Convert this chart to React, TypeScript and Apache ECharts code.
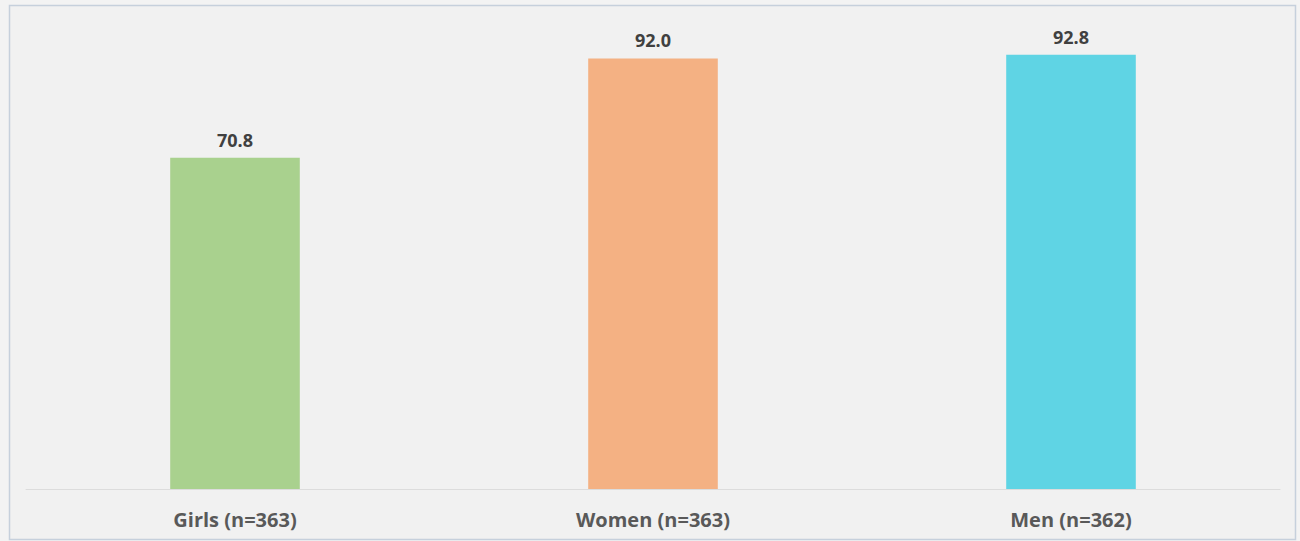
import React, { useEffect, useRef } from "react";
import * as echarts from "echarts";

const categories = ["Girls (n=363)", "Women (n=363)", "Men (n=362)"];
const values = [70.8, 92.0, 92.8];
const colors = ["#a9d18e", "#f4b183", "#5fd4e4"];

export default function App() {
  const ref = useRef<HTMLDivElement>(null);

  useEffect(() => {
    if (!ref.current) return;
    const chart = echarts.init(ref.current, undefined, { renderer: "svg" });
    chart.setOption({
      animation: false,
      backgroundColor: "#f3f3f3",
      graphic: [
        {
          type: "rect",
          shape: { x: 9.5, y: 5.5, width: 1286, height: 534 },
          style: { fill: "#f1f1f1", stroke: "#c6d0dc", lineWidth: 1.5 },
          z: -10,
        },
      ],
      grid: { left: 26, right: 20, top: 21, bottom: 52 },
      xAxis: {
        type: "category",
        data: categories,
        axisLine: { lineStyle: { color: "#dcdcdc", width: 1 } },
        axisTick: { show: false },
        axisLabel: {
          color: "#595959",
          fontFamily: "Open Sans",
          fontWeight: "bold",
          fontSize: 20,
          margin: 20,
        },
      },
      yAxis: {
        type: "value",
        min: 0,
        max: 100,
        show: false,
        splitLine: { show: false },
      },
      series: [
        {
          type: "bar",
          barWidth: "31%",
          data: values.map((v, i) => ({ value: v, itemStyle: { color: colors[i] } })),
          label: {
            show: true,
            position: "top",
            distance: 9,
            formatter: (p: any) => p.value.toFixed(1),
            color: "#404040",
            fontFamily: "Open Sans",
            fontWeight: "bold",
            fontSize: 18,
          },
        },
      ],
    });
    return () => chart.dispose();
  }, []);

  return (
    <div
      ref={ref}
      style={{ position: "absolute", left: 0, top: 0, width: 1300, height: 541 }}
    />
  );
}
